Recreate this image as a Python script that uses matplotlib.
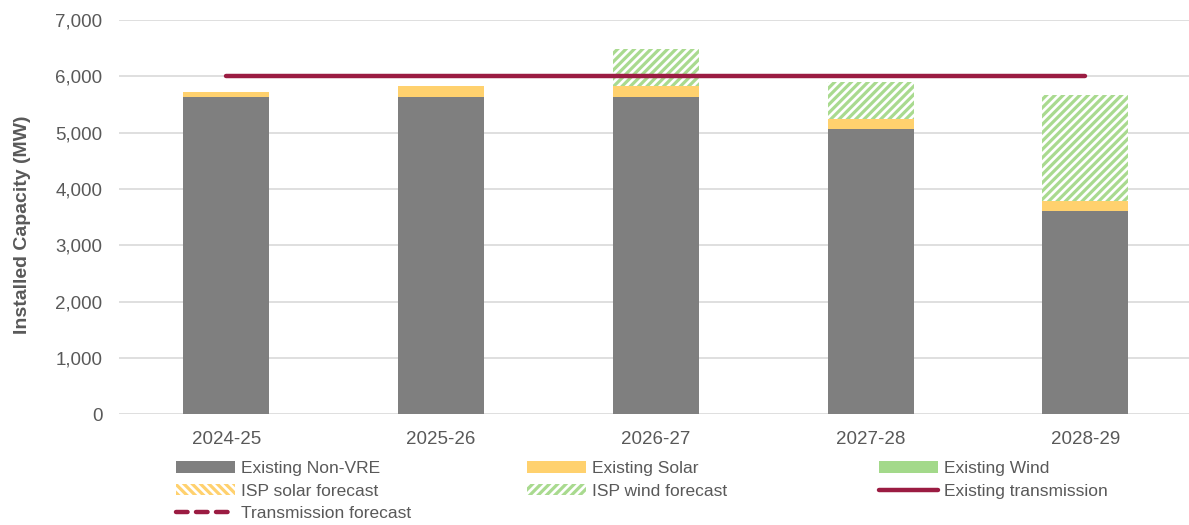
import matplotlib as mpl
mpl.use('Agg')
import matplotlib.pyplot as plt
import numpy as np
from matplotlib.patches import Patch
from matplotlib.lines import Line2D
from matplotlib.ticker import FuncFormatter

plt.rcParams['font.family'] = ['Liberation Sans', 'DejaVu Sans']
plt.rcParams['hatch.linewidth'] = 2.3

years = ['2024-25', '2025-26', '2026-27', '2027-28', '2028-29']
non_vre = [5640, 5640, 5640, 5065, 3610]
solar = [80, 180, 180, 175, 180]
wind = [0, 0, 0, 0, 0]
isp_solar = [0, 0, 0, 0, 0]
isp_wind = [0, 0, 670, 660, 1870]
transmission = [6000, 6000, 6000, 6000, 6000]

GREY = '#7f7f7f'
SOLAR = '#ffd16e'
WIND = '#a3d98a'
WIND_HATCH = '#a9da8f'
LINE = '#9b1c42'
TXT = '#595959'
HATCH_W = '////'
HATCH_S = '\\\\\\\\'

fig = plt.figure(figsize=(11.89, 5.25), dpi=100)
ax = fig.add_axes([0.1001, 0.2109, 0.9030, 0.7510])

x = np.arange(len(years))
w = 0.40
bottom = np.zeros(len(years))
ax.bar(x, non_vre, w, bottom=bottom, color=GREY, zorder=2)
bottom += non_vre
ax.bar(x, solar, w, bottom=bottom, color=SOLAR, zorder=2)
bottom += solar
ax.bar(x, wind, w, bottom=bottom, color=WIND, zorder=2)
bottom += wind
ax.bar(x, isp_solar, w, bottom=bottom, facecolor='white', edgecolor=SOLAR,
       hatch=HATCH_S, linewidth=0, zorder=2)
bottom += isp_solar
ax.bar(x, isp_wind, w, bottom=bottom, facecolor='white', edgecolor=WIND_HATCH,
       hatch=HATCH_W, linewidth=0, zorder=2)

ax.plot(x, transmission, color=LINE, lw=3.2, solid_capstyle='round', zorder=3)

ax.set_xlim(-0.5, len(years) - 0.5)
ax.set_ylim(0, 7000)
ax.set_yticks(range(0, 7001, 1000))
ax.yaxis.set_major_formatter(FuncFormatter(lambda v, p: f'{int(v):,}'))
ax.set_xticks(x)
ax.set_xticklabels(years)
ax.grid(axis='y', color='#d9d9d9', lw=1.2, zorder=0)
ax.set_axisbelow(True)
for s in ax.spines.values():
    s.set_visible(False)
ax.tick_params(axis='y', length=0, pad=12, labelsize=13.5, labelcolor=TXT)
ax.tick_params(axis='x', length=0, pad=12, labelsize=13.5, labelcolor=TXT)
ax.set_ylabel('Installed Capacity (MW)', fontsize=14, fontweight='bold',
              color=TXT)
ax.yaxis.set_label_coords(-0.082, 0.48)

# legend handles, laid out as three separate columns
h_nonvre = Patch(facecolor=GREY, label='Existing Non-VRE')
h_solar = Patch(facecolor=SOLAR, label='Existing Solar')
h_wind = Patch(facecolor=WIND, label='Existing Wind')
h_isp_solar = Patch(facecolor='white', edgecolor=SOLAR, hatch=HATCH_S, lw=0,
                    label='ISP solar forecast')
h_isp_wind = Patch(facecolor='white', edgecolor=WIND_HATCH, hatch=HATCH_W, lw=0,
                   label='ISP wind forecast')
h_trans = Line2D([], [], color=LINE, lw=3.2, solid_capstyle='round',
                 label='Existing transmission')
h_trans_fc = Line2D([], [], color=LINE, lw=3.2, ls=(0, (2.6, 1.9)),
                    dash_capstyle='round', label='Transmission forecast')

columns = [
    ([h_nonvre, h_isp_solar, h_trans_fc], 176),
    ([h_solar, h_isp_wind], 527),
    ([h_wind, h_trans], 879),
]
for handles, px in columns:
    fig.legend(handles=handles, loc='upper left',
               bbox_to_anchor=(px / 1189, 1 - 461 / 525), ncol=1,
               frameon=False, fontsize=12.5, labelcolor=TXT,
               handlelength=3.4, handleheight=0.65, handletextpad=0.35,
               labelspacing=0.44, borderpad=0, borderaxespad=0)

fig.savefig('out.png', dpi=100)
